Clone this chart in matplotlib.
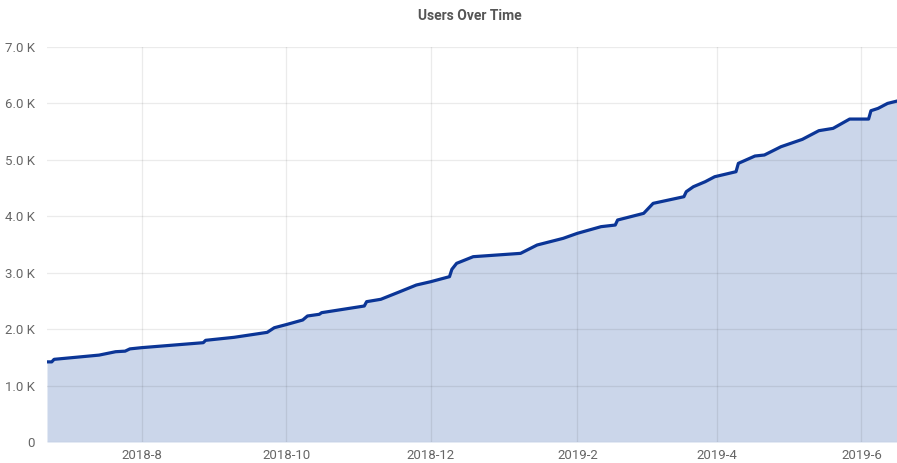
import matplotlib
matplotlib.use("Agg")
import matplotlib.pyplot as plt
import numpy as np
import pandas as pd

title = "Users Over Time"

dates = [
    "2018-06-22", "2018-06-24", "2018-06-25", "2018-07-14", "2018-07-21", "2018-07-25",
    "2018-07-27", "2018-08-01", "2018-08-27", "2018-08-28", "2018-09-09", "2018-09-23",
    "2018-09-26", "2018-10-01", "2018-10-08", "2018-10-10", "2018-10-15", "2018-10-16",
    "2018-11-03", "2018-11-04", "2018-11-10", "2018-11-18", "2018-11-25", "2018-12-01",
    "2018-12-09", "2018-12-10", "2018-12-12", "2018-12-19", "2019-01-08", "2019-01-15",
    "2019-01-26", "2019-02-01", "2019-02-11", "2019-02-17", "2019-02-18", "2019-03-01",
    "2019-03-05", "2019-03-18", "2019-03-19", "2019-03-22", "2019-03-27", "2019-03-31",
    "2019-04-09", "2019-04-10", "2019-04-17", "2019-04-21", "2019-04-28", "2019-05-07",
    "2019-05-14", "2019-05-20", "2019-05-27", "2019-06-04", "2019-06-05", "2019-06-08",
    "2019-06-12", "2019-06-16",
]
users = [
    1420, 1420, 1465, 1540, 1600, 1610,
    1650, 1672, 1760, 1802, 1855, 1943,
    2025, 2080, 2162, 2233, 2263, 2292,
    2410, 2487, 2529, 2663, 2782, 2840,
    2930, 3060, 3166, 3284, 3343, 3491,
    3609, 3698, 3816, 3845, 3934, 4052,
    4229, 4347, 4436, 4524, 4613, 4701,
    4790, 4938, 5068, 5086, 5233, 5363,
    5517, 5558, 5723, 5723, 5871, 5912,
    6000, 6042,
]

x_start = "2018-06-22"
x_end = "2019-06-16"
y_ticks = [0, 1000, 2000, 3000, 4000, 5000, 6000, 7000]
y_labels = ["0", "1.0 K", "2.0 K", "3.0 K", "4.0 K", "5.0 K", "6.0 K", "7.0 K"]
x_ticks = ["2018-08-01", "2018-10-01", "2018-12-01", "2019-02-01", "2019-04-01", "2019-06-01"]
x_labels = ["2018-8", "2018-10", "2018-12", "2019-2", "2019-4", "2019-6"]

plt.rcParams['font.family'] = ['Roboto', 'DejaVu Sans']

x = pd.to_datetime(dates)
fig = plt.figure(figsize=(8.97, 4.63), dpi=100)
ax = fig.add_axes([47/897, 1-442/463, 1-47/897, (442-47)/463])

ax.fill_between(x, users, 0, color="#cbd6ea", zorder=1, linewidth=0)
ax.plot(x, users, color="#0b3596", linewidth=2.3, zorder=3, solid_joinstyle="round")

ax.set_xlim(pd.Timestamp(x_start), pd.Timestamp(x_end))
ax.set_ylim(0, 7000)
ax.set_yticks(y_ticks)
ax.set_yticklabels(y_labels)
ax.set_xticks(pd.to_datetime(x_ticks))
ax.set_xticklabels(x_labels)

ax.grid(True, color="black", alpha=0.08, linewidth=0.9, zorder=2)
ax.set_axisbelow(False)
for s in ax.spines.values():
    s.set_visible(False)
ax.tick_params(axis="both", length=0, labelsize=9.5, colors="#666666")
ax.tick_params(axis="x", pad=5)
ax.tick_params(axis="y", pad=9)

fig.text(470/897, 1-16/463, title, ha="center", va="center", fontsize=10,
         fontweight="bold", color="#555555")

fig.savefig("out.png", dpi=100)
